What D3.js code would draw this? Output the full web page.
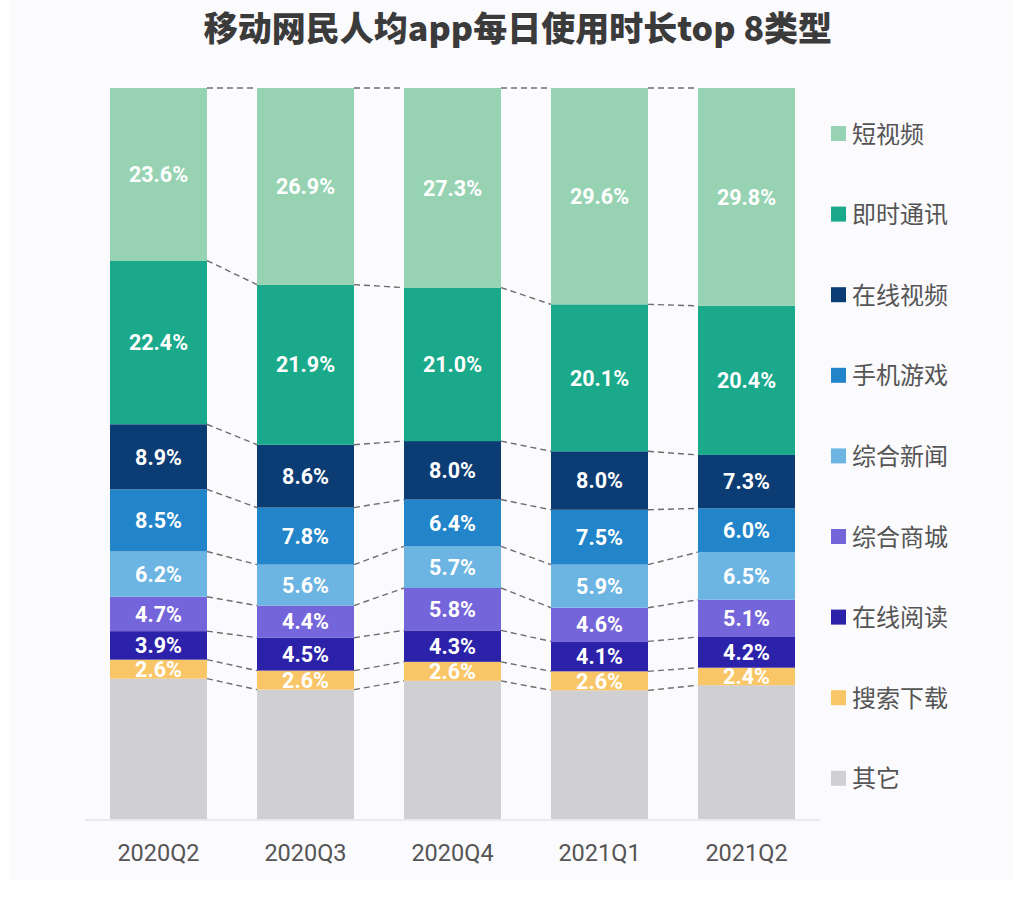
<!DOCTYPE html>
<html><head><meta charset="utf-8">
<script src="https://cdn.jsdelivr.net/npm/d3@7"></script>
<style>html,body{margin:0;padding:0;background:#fff;}svg{display:block;}</style>
</head><body>
<svg id="chart" width="1024" height="901"></svg>
<script>
const quarters = ["2020Q2","2020Q3","2020Q4","2021Q1","2021Q2"];
const seriesNames = ["其它","搜索下载","在线阅读","综合商城","综合新闻","手机游戏","在线视频","即时通讯","短视频"];
const others      = [19.2, 17.7, 18.9, 17.6, 18.3];
const search      = [2.6, 2.6, 2.6, 2.6, 2.4];
const reading     = [3.9, 4.5, 4.3, 4.1, 4.2];
const mall        = [4.7, 4.4, 5.8, 4.6, 5.1];
const news        = [6.2, 5.6, 5.7, 5.9, 6.5];
const games       = [8.5, 7.8, 6.4, 7.5, 6.0];
const onlineVideo = [8.9, 8.6, 8.0, 8.0, 7.3];
const im          = [22.4, 21.9, 21.0, 20.1, 20.4];
const shortVideo  = [23.6, 26.9, 27.3, 29.6, 29.8];
const legendOrder = ["短视频","即时通讯","在线视频","手机游戏","综合新闻","综合商城","在线阅读","搜索下载","其它"];
const title = "移动网民人均app每日使用时长top 8类型";

const colors = {"短视频":"#97d3b3","即时通讯":"#1aa98b","在线视频":"#0c3c74","手机游戏":"#2385c9","综合新闻":"#6cb5e3","综合商城":"#7565da","在线阅读":"#2c22aa","搜索下载":"#f9c667","其它":"#d0d0d2"};
const valuesBySeries = [others, search, reading, mall, news, games, onlineVideo, im, shortVideo];

const rows = quarters.map((q,i)=>{const r={q}; seriesNames.forEach((s,j)=>r[s]=valuesBySeries[j][i]); return r;});
const stacked = d3.stack().keys(seriesNames)(rows);

const svg = d3.select("#chart");
svg.append("rect").attr("x",10).attr("y",0).attr("width",1003).attr("height",880).attr("fill","#fbfafd");

const x = d3.scaleBand().domain(quarters).range([85,820]).paddingInner(50/147).paddingOuter(0.17);
const y = d3.scaleLinear().domain([0,100]).range([819,88]);

// title
svg.append("text").attr("x",518).attr("y",41).attr("text-anchor","middle")
  .attr("font-family","'Noto Sans CJK SC','Noto Sans',sans-serif").attr("font-weight","900")
  .attr("font-size",34).attr("fill","#3b3b3b").text(title);

// axis line
svg.append("line").attr("x1",85).attr("x2",820).attr("y1",820).attr("y2",820).attr("stroke","#e4e4e6").attr("stroke-width",1.5);

// bars
const g = svg.append("g");
stacked.forEach(layer=>{
  g.selectAll(null).data(layer).enter().append("rect")
    .attr("x",d=>x(d.data.q)).attr("width",x.bandwidth())
    .attr("y",d=>y(d[1])).attr("height",d=>y(d[0])-y(d[1]))
    .attr("fill",colors[layer.key]);
});

// connectors
const conn = svg.append("g");
stacked.forEach(layer=>{
  for(let i=0;i<quarters.length-1;i++){
    const a=layer[i], b=layer[i+1];
    conn.append("line")
      .attr("x1",x(quarters[i])+x.bandwidth()).attr("y1",y(a[1]))
      .attr("x2",x(quarters[i+1])).attr("y2",y(b[1]))
      .attr("stroke","#6e6e6e").attr("stroke-width",1.4).attr("stroke-dasharray","6,4");
  }
});

// labels
const lab = svg.append("g");
stacked.forEach(layer=>{
  if(layer.key==="其它") return;
  lab.selectAll(null).data(layer).enter().append("text")
    .attr("x",d=>x(d.data.q)+x.bandwidth()/2)
    .attr("y",d=>(y(d[0])+y(d[1]))/2)
    .attr("dy","0.36em").attr("text-anchor","middle")
    .attr("font-family","Roboto,'Noto Sans',sans-serif").attr("font-weight","bold")
    .attr("font-size",21.5).attr("fill","#fff")
    .text(d=>(d[1]-d[0]).toFixed(1)+"%");
});

// x labels
svg.append("g").selectAll("text").data(quarters).enter().append("text")
  .attr("x",d=>x(d)+x.bandwidth()/2).attr("y",861).attr("text-anchor","middle")
  .attr("font-family","Roboto,'Noto Sans',sans-serif").attr("font-size",23.5).attr("fill","#555")
  .text(d=>d);

// legend
const leg = svg.append("g");
legendOrder.forEach((s,i)=>{
  const cy = 133 + i*80.6;
  leg.append("rect").attr("x",831).attr("y",cy-7).attr("width",15).attr("height",15).attr("fill",colors[s]);
  leg.append("text").attr("x",852).attr("y",cy+1).attr("dy","0.36em")
    .attr("font-family","'Noto Sans CJK SC',sans-serif").attr("font-size",24).attr("fill","#555").text(s);
});
</script>
</body></html>
